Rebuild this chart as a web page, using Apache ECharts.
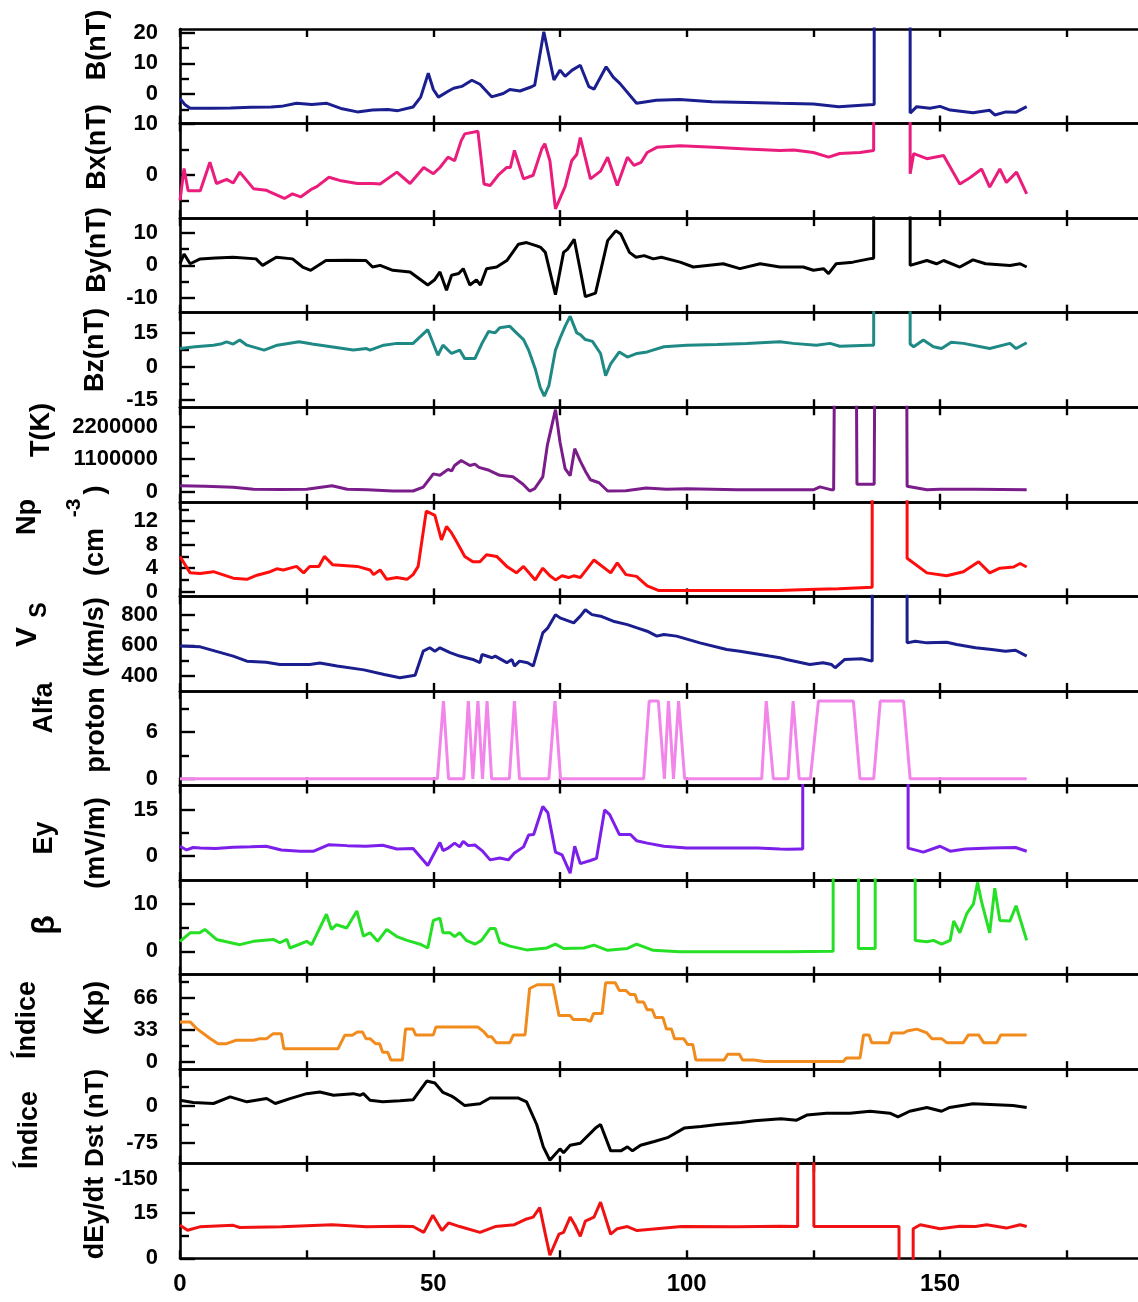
<!DOCTYPE html>
<html><head><meta charset="utf-8">
<script src="https://cdn.jsdelivr.net/npm/echarts@6/dist/echarts.min.js"></script>
<style>html,body{margin:0;padding:0;background:#fff}#c{width:1138px;height:1302px}</style>
</head><body><div id="c"></div><script>
// ---- data (x = time, y = value); fill values (999.9 etc.) mark gaps that run off the panel ----
const xLabels = [0, 50, 100, 150];
const xTicks = [0, 25, 50, 75, 100, 125, 150, 175];

const B = [[0,-1.4],[1,-3.5],[2,-4.6],[6,-4.6],[10,-4.5],[14,-4.3],[18,-4.2],[20,-4],[23,-3],[26,-3.4],[29,-3],[32,-4.8],[35,-5.8],[38,-5.2],[41,-5],[43,-5.4],[46,-4.2],[47.5,-1],[49,6.8],[50,1.5],[51,-1],[53,1],[54,1.9],[55.6,2.5],[57.6,4.5],[59.2,3.2],[61.5,-0.9],[63.8,0.2],[65.1,1.5],[67.1,1],[69.4,2.4],[70,2.9],[71.8,20.3],[73.8,4.6],[75,7.8],[76,5.8],[77.4,7.8],[79,9.4],[80.7,2.4],[81.7,1.6],[84.1,8.9],[85.5,5.5],[86.8,3.5],[90.1,-3],[94,-2],[98.6,-1.8],[105,-2.5],[112,-2.7],[118.4,-3],[125,-3.2],[130,-4.1],[136,-3.5],[137,-3.4],[137.2,999.9],[144,999.9],[144.1,-6.2],[145.4,-4.1],[148,-4.6],[150,-4],[152,-5.2],[156.5,-6.1],[159.8,-5.3],[160.8,-6.8],[163,-5.8],[165,-5.9],[167.1,-4.1]];

const Bx = [[0,-4.9],[0.8,1.3],[1.6,-3],[4,-3],[5.9,2.5],[7.2,-1.6],[9.2,-0.8],[10.5,-1.5],[11.8,0.6],[14.5,-2.6],[17,-2.9],[17.7,-3.2],[20.6,-4.5],[22.2,-3.6],[23.8,-4.2],[25.8,-2.8],[27,-2.2],[29.4,-0.4],[31.5,-1],[35,-1.6],[38,-1.6],[39.5,-1.7],[42.8,0.6],[45.4,-1.6],[48.1,1.5],[50,0.3],[51.3,1.5],[52.9,3.5],[54.2,2.8],[55.5,6.7],[56.2,8],[58.8,8.5],[60,-1.7],[61.2,-2],[62.8,0],[64.5,1.5],[65.2,1.5],[66,4.8],[67.8,-0.7],[69.7,0],[71.4,5.1],[72,6.1],[73,2.8],[74.1,-6.5],[76,-2.2],[77.3,2.8],[78.3,4],[79,7.3],[81,-0.7],[83,0.8],[84.4,3.5],[86.3,-2],[88.3,3.5],[89.6,1.9],[91,2.5],[92.2,4.4],[94.1,5.4],[98.7,5.7],[105.3,5.4],[111.8,5.1],[118.4,4.8],[121.1,4.9],[125,4.4],[128,3.5],[130.2,4.2],[134.2,4.4],[136.9,4.8],[137.2,999.9],[144,999.9],[144.1,0.3],[144.8,4.2],[147.4,3.2],[150.7,3.8],[153.9,-1.7],[155.9,-0.5],[158.2,1.2],[159.8,-2.3],[161.8,1.2],[163.1,-1.4],[165.1,0.6],[167.1,-3.6]];

const By = [[0,0.5],[0.8,3.5],[2,0.5],[4,2],[7,2.3],[10.5,2.5],[15,2],[16.3,0],[19,2.5],[22.2,2],[24.2,-0.5],[25.8,-1.5],[28.8,1.5],[33,1.6],[36.7,1.5],[38,-0.5],[39.5,0],[42,-1.5],[45.4,-2],[48.9,-6],[50.2,-4.5],[51.3,-2],[52.6,-7.6],[53.6,-3],[55,-2.5],[55.9,-1],[57.2,-6],[58.5,-4.5],[59.3,-6],[60.5,-1],[62.5,-0.5],[64.5,1.5],[66.8,6.5],[68.4,7],[70.4,6],[71.2,5.5],[72.1,4],[74.1,-9],[75.7,4],[76.5,5],[77.8,8],[79,-1.5],[80,-9.6],[82,-8.5],[84.4,7.6],[86,10.6],[87,9.6],[88.7,4],[90,2.5],[91.6,3],[93.4,2],[95,2.5],[98.7,1],[101.3,-0.5],[107.2,0.5],[110.5,-1],[114.5,0.5],[118.4,-0.5],[121,-0.5],[123,-0.5],[125,-1.5],[127,-1],[128,-2.5],[129.5,0.5],[132.8,1],[136,2],[136.9,2.2],[137.2,999.9],[144,999.9],[144.1,0],[147.4,1.5],[149.3,0.5],[150.7,1.5],[153.9,-0.5],[156.5,1.7],[159,0.5],[163.8,0],[165.8,0.5],[167.1,-0.5]];

const Bz = [[0,8],[3,8.8],[6.6,9.5],[8,10],[9.2,11],[10.5,10],[11.8,11.8],[13.2,9.5],[16.6,7.3],[19.2,9.5],[23.5,11],[26.1,10],[34.2,7.3],[36.8,8],[37.5,7.3],[40.2,9.5],[42.8,10.3],[46,10.3],[48.9,16.4],[50.9,5],[51.9,9.5],[53.6,5.8],[55.2,7.3],[56.2,3.5],[58.2,3.5],[59.6,10.3],[60.9,15.6],[62.2,15],[63.1,17.3],[65.1,17.9],[66.4,15],[67.8,12],[68.8,7.3],[70.1,-1],[71.1,-9.4],[71.9,-13.2],[72.8,-8.6],[74.1,7.3],[75,12.6],[76,17.9],[77,22.4],[78.3,15],[79,14.2],[80,12],[81.4,11.2],[83,5.8],[84,-4.1],[85,1.2],[86.7,6.5],[88.3,4.2],[90.2,5.8],[92.2,6.5],[95.5,8.8],[100,9.5],[106,9.8],[111.8,10.3],[118.4,11],[121,10.3],[125.6,9.5],[128.3,10.3],[130.2,9],[136,9.5],[136.9,9.5],[137.2,999.9],[144,999.9],[144.1,10],[144.8,8.8],[146.7,11.8],[148.7,8.8],[150.3,8],[152.2,10.8],[154.6,10.3],[159.8,8],[163.8,10.3],[165,8],[167.1,10.6]];

const T = [[0,200000],[5,180000],[10.5,150000],[14.5,80000],[20,70000],[25,80000],[30,200000],[33,80000],[37,60000],[42,20000],[46,20000],[48,150000],[50,600000],[51.3,550000],[52.9,750000],[53.6,700000],[54.2,880000],[55.5,1050000],[57.2,880000],[58.2,930000],[59,820000],[61,720000],[63.1,550000],[65.7,500000],[67.7,250000],[69,20000],[70,100000],[71.6,500000],[72.5,1570000],[74.1,2770000],[75,1670000],[76,780000],[77,540000],[77.9,1450000],[79,1030000],[80,690000],[81,400000],[82.7,300000],[84.4,20000],[88,30000],[92,120000],[96,80000],[100,100000],[110,60000],[118,60000],[125,60000],[126.3,160000],[128.6,60000],[129,60000],[129.4,9999999],[133.3,9999999],[133.6,250000],[137,250000],[137.3,9999999],[143.3,9999999],[143.5,180000],[147.4,60000],[150,80000],[157,80000],[167.1,60000]];

const Np = [[0,6],[2,3.2],[4,3.1],[6.6,3.4],[10.5,2.3],[13.2,2.1],[15.2,2.8],[17.8,3.4],[19.1,3.9],[20.4,3.7],[23,4.3],[24.4,3.2],[25.6,4.3],[27.4,4.3],[28.5,6],[30.1,4.6],[35,4.3],[37.5,3.7],[38.2,2.9],[39.5,3.7],[40.8,2.1],[42.8,2.4],[44.8,2.1],[46,2.9],[47,4.3],[48.6,13.7],[50.3,13],[51.6,8.8],[52.6,11.1],[53.6,10],[54.6,8.5],[56.2,6],[57.8,5.1],[59.2,5.1],[60.5,6.3],[62.5,6],[64.5,4.3],[66.4,3.2],[67.8,4.3],[70.1,2],[71.6,4],[73,2.7],[74.1,2],[75.4,2.7],[76.7,2.4],[77.7,2.7],[79,2.4],[81.7,5.4],[85,3.2],[86.3,4.9],[88,2.9],[90.1,2.6],[92.2,1],[94.4,0.2],[100,0.2],[110,0.2],[118,0.2],[125.6,0.4],[130,0.5],[136.6,0.77],[136.9,0.8],[137.2,999.9],[143.3,999.9],[143.5,5.7],[147.4,3.2],[151.3,2.7],[154.6,3.4],[157.6,5.1],[159.8,3.2],[161.8,4],[164.5,4.2],[165.8,4.8],[167.1,4.2]];

const Vs = [[0,595],[4,590],[10.5,530],[13.2,497],[17,490],[19.7,475],[25.6,475],[27.6,485],[31,465],[36.3,440],[40.3,410],[43.4,389],[46.4,405],[48,562],[49.3,584],[50.3,562],[51.3,584],[53.3,552],[55.2,530],[57.8,508],[59.2,487],[59.6,540],[61.6,519],[62.2,530],[64.5,487],[65.5,508],[66,465],[67,497],[68.6,487],[69.7,465],[71.6,681],[72.6,714],[74.1,800],[75,779],[77.7,746],[79,790],[80,832],[81.3,800],[83,790],[85.5,757],[88.3,735],[90.2,714],[92.2,692],[94.1,660],[95.5,671],[98,660],[102.6,616],[107.9,573],[110.5,562],[116.3,530],[118.4,519],[119.7,508],[124.3,475],[126.9,487],[128.6,475],[129.3,454],[131.2,508],[134.5,513],[136.6,497],[136.9,497],[137.2,9999],[143.3,9999],[143.5,616],[145.1,627],[147.4,616],[151.3,620],[153.3,605],[157,584],[160.2,573],[162.9,562],[164.9,568],[167.1,530]];

const Alfa = [[0,0],[50.8,0],[52,9.999],[53,0],[56,0],[56.9,9.999],[57.8,0],[58.8,9.999],[59.7,0],[60.6,9.999],[61.5,0],[65,0],[66,9.999],[67,0],[72.8,0],[74,9.999],[75.1,0],[91.5,0],[92.6,9.999],[94.4,9.999],[95.6,0],[96.4,9.999],[97.4,0],[98.4,9.999],[99.6,0],[114.8,0],[115.7,9.999],[117.1,0],[120,0],[121,9.999],[122.2,0],[124.4,0],[126,9.999],[132.9,9.999],[134.2,0],[136.9,0],[138.2,9.999],[142.8,9.999],[144.1,0],[167.1,0]];

const Ey = [[0,3.2],[1.3,2],[2.6,2.8],[4,2.6],[7,2.5],[10.5,2.9],[14,3],[17,3.2],[20,2],[23.7,1.6],[26.4,1.6],[29.4,3.7],[33,3.4],[36.7,3.2],[40,3.5],[42.8,2.3],[46,2.5],[48.9,-3],[51.3,4.4],[51.9,1.8],[53,2.7],[54.2,4.2],[55.2,3],[55.9,4.8],[56.9,3.4],[58.2,3.6],[59.6,1.8],[61.2,-1.2],[63.1,-0.6],[64.8,-1.2],[66,1],[67.8,3],[68.8,6.8],[69.8,7],[71.6,16],[72.6,14],[74.1,1.3],[75.4,0.4],[77,-5.5],[77.9,3.2],[79,-2.4],[81,-1.4],[82.2,-0.7],[83.8,14.9],[84.8,13.4],[86.7,7],[88.9,7],[90.1,5],[92.2,4.2],[95.5,3.2],[100,2.6],[108,2.6],[114,2.6],[118.4,2.3],[120,2.2],[122.4,2.3],[122.9,2.3],[123.1,999.99],[143.6,999.99],[143.7,2.6],[146.7,1.3],[150,3.2],[152,1.6],[155,2.3],[160,2.6],[164.9,2.8],[167.1,1.6]];

const Beta = [[0,2.1],[2,3.9],[3.9,3.9],[4.9,4.6],[7.2,2.5],[11.8,1.4],[14.5,2.1],[18.4,2.5],[19.7,1.8],[21.1,2.5],[21.7,0.7],[25,2.1],[26,1.4],[28.9,7.8],[29.9,4.6],[30.9,5.6],[32.9,4.9],[34.9,8.5],[36.2,3.2],[37.5,3.9],[39,2.1],[40.8,4.6],[42.8,3.1],[44.8,2.3],[47.4,1.5],[48.9,0.7],[50,6.5],[51.3,7],[51.9,3.9],[53.3,3.9],[54.2,3.1],[55.2,3.9],[56.5,2.3],[58.2,1.5],[59.5,2.3],[61.2,4.8],[62.2,4.8],[63.1,1.9],[65.1,1.1],[68.4,0.3],[72.4,0.7],[74.1,1.5],[75.7,0.6],[79.7,0.7],[81.7,1.3],[84.4,0.2],[88.3,0.6],[90.1,1.5],[93.4,0.2],[98.6,-0.1],[110,-0.1],[120,-0.1],[128.9,0],[129.3,999.99],[133.8,999.99],[133.9,0.6],[137.2,0.6],[137.4,999.99],[144.3,999.99],[145.1,2.3],[147.4,2],[148.7,2.3],[150.3,1.5],[152,2.3],[152.7,6.4],[153.9,3.9],[155.3,8],[156.6,10],[157.4,14.5],[158.2,10.4],[159.8,3.9],[160.8,13.3],[161.8,6.5],[163.8,6.4],[165,9.6],[167.1,2.3]];

const Kp = [[0,41],[2,41],[3.3,34],[4.6,29],[6,23.6],[7.5,18.4],[9.2,18.4],[11,21.9],[14.5,21.9],[15.8,23.6],[17.1,23.6],[18.4,28.8],[20,28.8],[20.5,13.2],[31.2,13.2],[32.5,27.1],[34,27.1],[35,30.6],[36,30.6],[36.7,23.6],[37.5,23.6],[38.6,18.4],[39.4,18.4],[40,9.5],[41,9.5],[41.6,1.6],[43.9,1.6],[44.5,33.5],[46,33.5],[46.5,27.5],[50,27.5],[50.5,35.6],[58.8,35.6],[60,30.6],[60.8,25.6],[61.5,25.6],[62.4,19.5],[65.1,19.5],[65.8,27.5],[68.1,27.5],[69,75.6],[70.5,79.5],[73.6,79.5],[74.8,47.5],[77,47.5],[77.6,43.5],[80,43.5],[80.3,41.5],[81,41.5],[81.6,49.6],[83.3,49.6],[84,81.5],[85.9,81.5],[86.7,73.5],[88,73.5],[88.8,69.5],[89.8,69.5],[90.3,61.6],[91.5,61.6],[92.2,53.5],[93.2,53.5],[93.8,45.5],[95.3,45.5],[96,33.5],[97,33.5],[97.6,23.6],[99.4,23.6],[100.2,17.5],[101.2,17.5],[101.8,1.6],[107.4,1.6],[108.1,7.5],[110.4,7.5],[111,1.6],[113.3,1.6],[115.3,0],[130.9,0],[131.5,3.5],[134.2,3.5],[134.9,27.5],[136,27.5],[136.5,19.5],[139.9,19.5],[140.5,29.5],[142.8,29.5],[143.5,31.5],[145.4,33.5],[146.5,31.5],[147.4,29.5],[148.4,23.6],[150.3,23.6],[151.3,19.5],[154.6,19.5],[155.6,27.5],[157.6,27.5],[158.6,19.5],[161.2,19.5],[162,27.5],[167.1,27.5]];

const Dst = [[0,11.3],[2.6,6.6],[6.6,4.6],[9.9,17.9],[13.2,8],[17.1,14.6],[18.8,4.6],[21.7,14.6],[25,24.5],[27.6,27.8],[30.3,21.2],[34.2,24.5],[35.5,21.2],[36.2,24.5],[37.5,11.3],[40,8],[43.4,10],[46,12],[48.7,50],[50.3,46],[51.9,27],[53.6,19.5],[54.2,15.7],[56.2,0.4],[59.2,4.2],[61.2,15.7],[66.8,15.7],[68.4,8],[70.4,-37.8],[71.7,-83],[73,-110],[74,-98.6],[75,-87],[75.7,-94.8],[77,-79.6],[79,-75.7],[82,-45],[83,-37.8],[85,-91],[87,-91],[88.3,-83],[89.3,-91],[90.9,-79.6],[93.6,-72],[96.2,-64.4],[99.5,-45],[102.8,-41.6],[106.1,-37.8],[110.7,-33.9],[113.4,-30],[118.6,-26.2],[121.7,-29],[123.7,-18.7],[127.6,-15],[132.2,-15],[136.2,-11],[140.1,-15],[141.7,-22.4],[144,-11],[147.4,-3.4],[150.3,-11],[151.9,-3.4],[156.5,4.3],[164.4,0.4],[167.1,-3.4]];

const dEy = [[0,10.8],[1.5,9.2],[3.9,10.3],[10.5,10.8],[11.8,10.1],[20,10.3],[30,11],[36.8,10.3],[43.4,10.5],[46,10.4],[48.1,8.5],[49.9,14.1],[51.7,9.1],[53,11.6],[55.2,10.4],[59.2,8.5],[62.2,10.4],[66,11],[68.4,12.9],[69.7,13.5],[71,16.6],[72.1,7.9],[73,1],[74.8,7.9],[75.7,8.5],[77,13.5],[77.9,11],[79,7.2],[80,12.2],[81.7,13.5],[83,18.4],[85,7.9],[86.3,9.7],[88.3,10.4],[90.2,9.1],[99,10.4],[110,10.3],[118.4,10.5],[121.9,10.4],[122,99],[125,99],[125.1,10.4],[141.9,10.4],[142,-99],[144.6,-99],[144.7,9.7],[146.1,11],[150,9.7],[153.9,10.5],[157,10.4],[159.2,11],[163.1,9.9],[165.8,11],[167.1,10.4]];

// tick label values per panel
const labB = [0,10,20], labBx = [0,10], labBy = [-10,0,10], labBz = [-15,0,15];
const labT = [0,1100000,2200000], labNp = [0,4,8,12], labVs = [400,600,800];
const labAlfa = [0,6], labEy = [0,15], labBeta = [0,10], labKp = [0,33,66];
const labDst = [-75,0], labdEy = [0,15];

// ---- layout / style ----
const FONT = '"Liberation Sans", Arial, sans-serif';
const TOP = 29, PH = 94.56, LEFT = 180, XMAX = 190, PXU = 5.067;
const panels = [
  {data:B,    color:'#1b1e8e', min:-9.6,  max:21.2, labels:labB,  minor:[-5,5,15]},
  {data:Bx,   color:'#ea1c7c', min:-8.3,  max:10,   labels:labBx, minor:[-5,5]},
  {data:By,   color:'#000000', min:-14.5, max:14.5, labels:labBy, minor:[-5,5]},
  {data:Bz,   color:'#1f8985', min:-18.2, max:24,   labels:labBz, minor:[-7.5,7.5]},
  {data:T,    color:'#7a1d8a', min:-344000, max:2850000, labels:labT, minor:[550000,1650000]},
  {data:Np,   color:'#ff0d0d', min:-0.8,  max:15.3, labels:labNp, minor:[2,6,10,14]},
  {data:Vs,   color:'#1b1e8e', min:303,   max:919,  labels:labVs, minor:[500,700]},
  {data:Alfa, color:'#f285ea', min:-0.85, max:11.3, labels:labAlfa, minor:[3,9]},
  {data:Ey,   color:'#7d1fea', min:-7.7,  max:22.8, labels:labEy, minor:[7.5]},
  {data:Beta, color:'#25e025', min:-4.9,  max:15,   labels:labBeta, minor:[5]},
  {data:Kp,   color:'#f28b1d', min:-8,    max:90,   labels:labKp, minor:[16.5,49.5,82.5]},
  {data:Dst,  color:'#000000', min:-117,  max:74,   labels:labDst, minor:[-37.5,37.5]},
  {data:dEy,  color:'#f01212', min:0,     max:31,   labels:labdEy, minor:[7.5,22.5]}
];

const grid = [], xAxis = [], yAxis = [], series = [];
const axisLineStyle = {color:'#000', width:2.6};
panels.forEach((p, i) => {
  grid.push({left: LEFT, top: TOP + i*PH, width: XMAX*PXU, height: PH, outerBoundsMode:'none', containLabel:false});
  const last = i === panels.length - 1;
  ['bottom','top'].forEach(pos => {
    xAxis.push({
      type:'value', gridIndex:i, min:0, max:XMAX, position:pos,
      axisLine:{show:true, onZero:false, lineStyle:axisLineStyle},
      axisTick:{show:true, inside:true, length:8, customValues:xTicks, lineStyle:{color:'#000', width:2.4}},
      axisLabel:{show: last && pos==='bottom', customValues:xLabels, margin:14,
        fontSize:24, fontWeight:'bold', fontFamily:FONT, color:'#000'},
      splitLine:{show:false}
    });
  });
  yAxis.push({
    type:'value', gridIndex:i, min:p.min, max:p.max, position:'left',
    axisLine:{show:true, onZero:false, lineStyle:axisLineStyle},
    axisTick:{show:true, inside:true, length:15, customValues:p.labels, lineStyle:{color:'#000', width:2.4}},
    axisLabel:{show:true, customValues:p.labels, margin:22, fontSize:22, fontWeight:'bold',
      fontFamily:FONT, color:'#000', formatter: v => String(v)},
    splitLine:{show:false}
  });
  yAxis.push({
    type:'value', gridIndex:i, min:p.min, max:p.max, position:'left',
    axisLine:{show:false},
    axisTick:{show:true, inside:true, length:9, customValues:p.minor, lineStyle:{color:'#000', width:2.4}},
    axisLabel:{show:false}, splitLine:{show:false}
  });
  series.push({
    type:'line', xAxisIndex:2*i, yAxisIndex:2*i, data:p.data, showSymbol:false, symbol:'none',
    clip:true, lineStyle:{color:p.color, width:3}, itemStyle:{color:p.color}, animation:false
  });
});

const tfont = s => 'bold ' + s + 'px ' + FONT;
const vt = (text, x, y, size) => ({type:'text', x, y, rotation:Math.PI/2, silent:true,
  style:{text, font:tfont(size||27), fill:'#000', textAlign:'center', textVerticalAlign:'middle'}});
const graphic = [
  vt('B(nT)', 98, 45), vt('Bx(nT)', 98, 147), vt('By(nT)', 98, 250), vt('Bz(nT)', 96, 350),
  vt('T(K)', 42, 430),
  vt('Np', 28, 517), vt('(cm', 96, 552), vt('-3', 74, 508, 21), vt(')', 96, 490),
  vt('V', 28, 637, 30), vt('S', 40, 610, 23), vt('(km/s)', 96, 637),
  vt('Alfa', 45, 708), vt('proton', 97, 730),
  vt('Ey', 45, 838), vt('(mV/m)', 97, 843),
  vt('β', 45, 925, 32),
  vt('Índice', 28, 1020), vt('(Kp)', 96, 1008),
  vt('Índice', 30, 1130), vt('Dst (nT)', 96, 1118, 26),
  vt('dEy/dt', 96, 1218),
  {type:'text', x:158, y:1179, silent:true,
   style:{text:'-150', font:tfont(22), fill:'#000', textAlign:'right', textVerticalAlign:'middle'}}
];

const chart = echarts.init(document.getElementById('c'), null, {renderer:'canvas'});
chart.setOption({animation:false, backgroundColor:'#fff', grid, xAxis, yAxis, series, graphic});
</script></body></html>
